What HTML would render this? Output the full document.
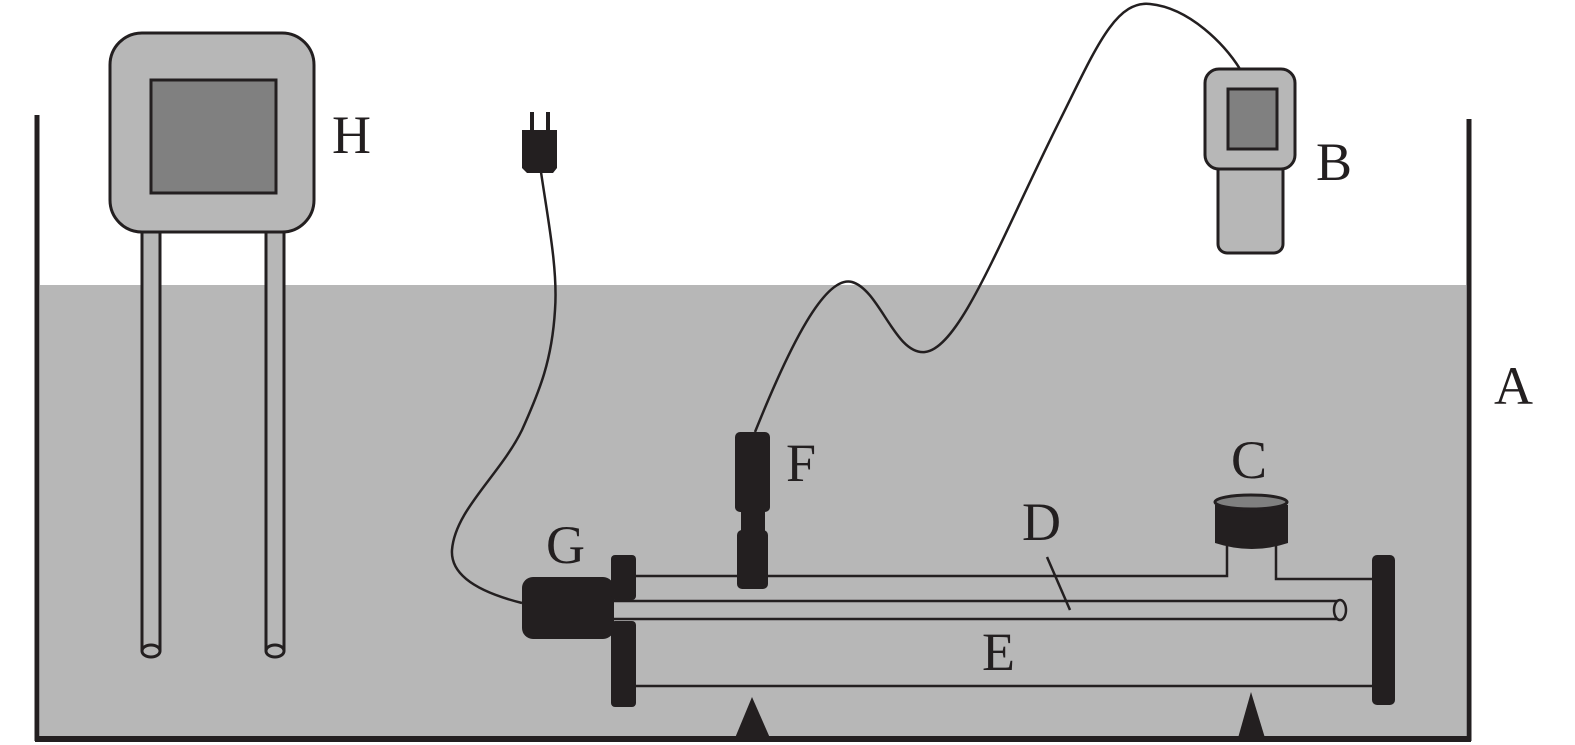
<!DOCTYPE html>
<html><head><style>html,body{margin:0;padding:0;background:#fff;}svg{display:block}</style></head>
<body>
<svg width="1575" height="745" viewBox="0 0 1575 745" xmlns="http://www.w3.org/2000/svg">
<rect x="40" y="285" width="1426" height="453" fill="#b7b7b7"/>
<g fill="none" stroke="#231f20" stroke-width="5">
<line x1="37" y1="115" x2="37" y2="741"/>
<line x1="1469" y1="119" x2="1469" y2="741"/>
</g>
<line x1="35" y1="739" x2="1471" y2="739" stroke="#231f20" stroke-width="6"/>
<!-- H -->
<g stroke="#231f20" stroke-width="3">
<rect x="142" y="230" width="18" height="420" fill="#b7b7b7"/>
<rect x="266" y="230" width="18" height="420" fill="#b7b7b7"/>
<ellipse cx="151" cy="651" rx="9" ry="6" fill="#b7b7b7"/>
<ellipse cx="275" cy="651" rx="9" ry="6" fill="#b7b7b7"/>
<rect x="110" y="33" width="204" height="199" rx="32" fill="#b7b7b7"/>
<rect x="151" y="80" width="125" height="113" fill="#808080"/>
</g>
<!-- plug -->
<g fill="#231f20">
<rect x="530" y="112" width="4" height="20"/>
<rect x="546" y="112" width="4" height="20"/>
<path d="M522,130 H557 V168 L553,173 H527 L522,168 Z"/>
</g>
<g fill="none" stroke="#231f20" stroke-width="2.5">
<path d="M541,172 C548,220 558,270 555,310 C552,360 540,390 522,430 C500,475 455,510 452,550 C450,580 490,595 522,603"/>
<path d="M755,432 C790,345 825,275 852,282 C880,290 895,355 925,352 C960,348 1000,240 1060,120 C1095,50 1115,0 1150,4 C1190,8 1225,45 1240,69"/>
</g>
<!-- B -->
<g stroke="#231f20" stroke-width="3">
<rect x="1218" y="160" width="65" height="93" rx="9" fill="#b7b7b7"/>
<rect x="1205" y="69" width="90" height="100" rx="14" fill="#b7b7b7"/>
<rect x="1228" y="89" width="49" height="60" fill="#808080"/>
</g>
<!-- apparatus lines -->
<g stroke="#231f20" stroke-width="2.5" fill="none">
<path d="M636,576 H740"/>
<path d="M766,576 H1227 V546"/>
<path d="M1276,546 V579 H1372"/>
<line x1="636" y1="686" x2="1372" y2="686"/>
<line x1="612" y1="601" x2="1340" y2="601"/>
<line x1="612" y1="619" x2="1340" y2="619"/>
<ellipse cx="1340" cy="610" rx="6" ry="10" fill="#b7b7b7"/>
<line x1="1047" y1="557" x2="1070" y2="610"/>
</g>
<g fill="#231f20">
<rect x="522" y="577" width="92" height="62" rx="11"/>
<rect x="611" y="555" width="25" height="45" rx="4"/>
<rect x="611" y="621" width="25" height="86" rx="4"/>
<rect x="1372" y="555" width="23" height="150" rx="5"/>
<rect x="735" y="432" width="35" height="80" rx="5"/>
<rect x="741" y="505" width="24" height="30"/>
<rect x="737" y="530" width="31" height="59" rx="5"/>
<path d="M1215,505 H1288 V543 Q1252,555 1215,543 Z"/>
<path d="M735,738 L752,697 L770,738 Z"/>
<path d="M1238,738 L1251,692 L1265,738 Z"/>
</g>
<ellipse cx="1251" cy="502" rx="36" ry="7" fill="#808080" stroke="#231f20" stroke-width="3"/>
<g font-family="Liberation Serif, serif" font-size="54" fill="#231f20">
<text x="332" y="153">H</text>
<text x="1316" y="180">B</text>
<text x="1494" y="404">A</text>
<text x="786" y="481">F</text>
<text x="1231" y="478">C</text>
<text x="1022" y="540">D</text>
<text x="546" y="563">G</text>
<text x="982" y="670">E</text>
</g>
</svg>
</body></html>
